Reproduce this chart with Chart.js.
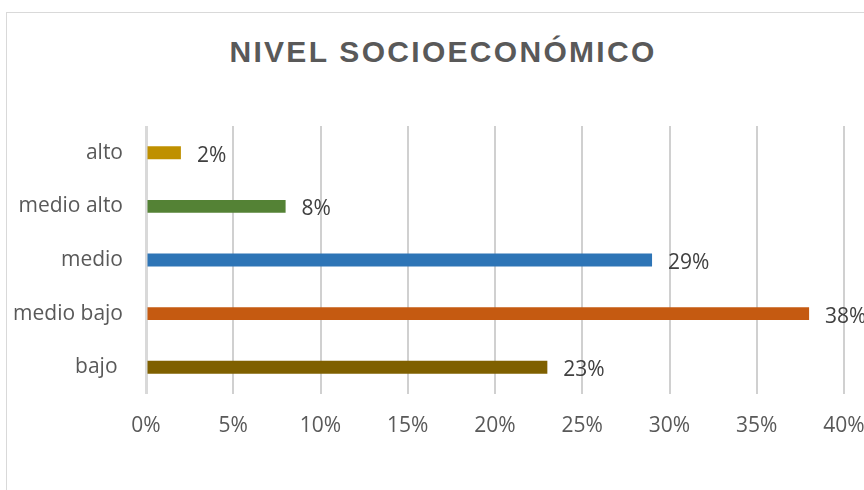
<!DOCTYPE html>
<html>
<head>
<meta charset="utf-8">
<script src="https://cdn.jsdelivr.net/npm/chart.js@4"></script>
<style>
 body{margin:0;background:#fff;overflow:hidden}
 #wrap{position:relative;width:864px;height:490px}
 #frame{position:absolute;left:6px;top:12px;width:900px;height:520px;border:1px solid #d9d9d9;box-sizing:border-box}
 #title{position:absolute;top:35px;left:0;width:886px;text-align:center;font:bold 30px "Liberation Sans",Arial,sans-serif;letter-spacing:2.3px;color:#595959}
 canvas{position:absolute;left:0;top:0}
</style>
</head>
<body>
<div id="wrap">
 <div id="frame"></div>
 <div id="title">NIVEL SOCIOECONÓMICO</div>
 <canvas id="c" width="864" height="490"></canvas>
</div>
<script>
/* DATA */
const categories=["alto","medio alto","medio","medio bajo","bajo "];
const values=[2,8,29,38,23];
const barColors=["#BF9000","#548235","#2E75B6","#C55A11","#7F6000"];
const xTicks=[0,5,10,15,20,25,30,35,40];

const FONT='"Open Sans", sans-serif';

/* value labels at bar ends */
const barLabels={
 id:"barLabels",
 afterDatasetsDraw(chart){
  const ctx=chart.ctx;
  ctx.save();
  ctx.font="21px "+FONT;
  ctx.fillStyle="#404040";
  ctx.textAlign="left";
  ctx.textBaseline="middle";
  chart.getDatasetMeta(0).data.forEach((el,i)=>{
   ctx.fillText(values[i]+"%",el.x+16,el.y+3);
  });
  ctx.restore();
 }
};

new Chart(document.getElementById("c"),{
 type:"bar",
 data:{
  labels:categories,
  datasets:[{data:values,backgroundColor:barColors,categoryPercentage:1,barPercentage:0.24}]
 },
 options:{
  indexAxis:"y",
  responsive:false,
  animation:false,
  layout:{padding:{top:126,right:20,left:0,bottom:0}},
  plugins:{legend:{display:false},tooltip:{enabled:false}},
  scales:{
   x:{
    min:0,max:40,
    afterBuildTicks(s){s.ticks=xTicks.map(v=>({value:v}));},
    afterFit(s){s.height=96;s.paddingLeft=0;s.paddingRight=0;},
    ticks:{callback:v=>v+"%",color:"#595959",font:{family:FONT,size:21},padding:19,maxRotation:0},
    grid:{drawTicks:false,color:c=>c.index===0?"#d9d9d9":"#d0d0d0",lineWidth:c=>c.index===0?3:2},
    border:{display:false}
   },
   y:{
    afterFit(s){s.width=146;},
    ticks:{color:"#595959",font:{family:FONT,size:21},padding:23},
    grid:{display:false,drawTicks:false},
    border:{display:false}
   }
  }
 },
 plugins:[barLabels]
});
</script>
</body>
</html>
